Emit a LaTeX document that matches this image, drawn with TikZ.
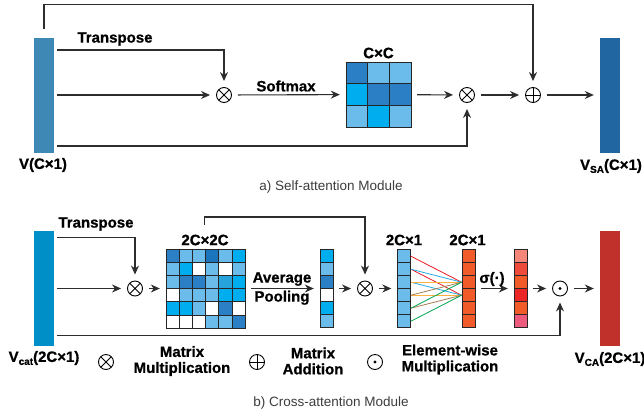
\documentclass[tikz,border=0pt]{standalone}
\usepackage{fontspec}
\setmainfont{Liberation Sans}[BoldFeatures={FakeBold=0.8}]
\usetikzlibrary{arrows.meta,calc}

\definecolor{linegray}{RGB}{45,45,45}
\definecolor{capgray}{RGB}{60,60,60}
\definecolor{vblue}{RGB}{62,136,182}
\definecolor{sablue}{RGB}{33,102,160}
\definecolor{catblue}{RGB}{0,143,199}
\definecolor{cared}{RGB}{192,49,43}
% cell fills
\definecolor{mb}{RGB}{43,127,196}
\definecolor{db}{RGB}{27,117,188}
\definecolor{lb}{RGB}{108,188,235}
\definecolor{cy}{RGB}{0,174,239}
\definecolor{cyb}{RGB}{39,163,220}
\definecolor{og}{RGB}{241,90,41}
\definecolor{sal}{RGB}{244,135,122}
\definecolor{rdb}{RGB}{238,75,59}
\definecolor{rdd}{RGB}{236,37,39}
\definecolor{pnk}{RGB}{236,91,126}
% wire colours
\definecolor{wred}{RGB}{237,28,36}
\definecolor{wblue}{RGB}{39,170,225}
\definecolor{worange}{RGB}{251,176,64}
\definecolor{wbrown}{RGB}{166,124,82}
\definecolor{wgreen}{RGB}{0,166,81}

\tikzset{
  lbl/.style={font=\bfseries\fontsize{15}{16}\selectfont, inner sep=0pt},
  capt/.style={font=\fontsize{13.5}{15}\selectfont, text=capgray, inner sep=0pt},
  feat/.style={minimum width=20pt, minimum height=115pt, inner sep=0pt},
  cellbox/.style={draw=black!85, line width=0.8pt, minimum width=13pt, minimum height=13pt, inner sep=0pt},
  op/.style={circle, draw=black, line width=0.9pt, minimum size=15pt, inner sep=0pt},
  mult/.style={op, path picture={\draw[line width=0.9pt]
      (path picture bounding box.north west) -- (path picture bounding box.south east)
      (path picture bounding box.north east) -- (path picture bounding box.south west);}},
  plus/.style={op, path picture={\draw[line width=0.9pt]
      (path picture bounding box.north) -- (path picture bounding box.south)
      (path picture bounding box.west) -- (path picture bounding box.east);}},
  hadamard/.style={op, path picture={\fill (path picture bounding box.center) circle (1.6pt);}},
  link/.style={draw=linegray, line width=1.1pt},
  arr/.style={link, -{Stealth[length=9pt,width=8pt]}, shorten <=6pt, shorten >=6pt},
  wire/.style={line width=0.8pt},
}

% lowered index inside bold labels
\newcommand{\lowidx}[1]{\raisebox{-3pt}{\fontsize{10}{10}\selectfont #1}}

% column of 6 cells: name, centre, fills
\newcommand{\cellcol}[3]{%
  \node[minimum width=13pt, minimum height=78pt, inner sep=0pt] (#1) at (#2) {};
  \foreach \c [count=\i] in {#3}
    \node[cellbox, fill=\c, anchor=north] (#1-\i) at ($(#1.north)+(0,{(\i-1)*13})$) {};
}
% square grid: name, centre, side, cell side, rows
\newcommand{\cellgrid}[5]{%
  \node[minimum size=#3pt, inner sep=0pt] (#1) at (#2) {};
  \foreach \rowc [count=\ry] in {#5}
    \foreach \c [count=\cx] in \rowc
      \node[cellbox, minimum size=#4pt, fill=\c, anchor=north west]
        at ($(#1.north west)+({(\cx-1)*#4},{(\ry-1)*#4})$) {};
}

\begin{document}
\begin{tikzpicture}[x=1pt, y=-1pt]
\useasboundingbox (0,0) rectangle (644,418);

%% a) self-attention
\node[feat, fill=vblue] (v) at (44,95) {};
\node[feat, fill=sablue] (vsa) at (610,95) {};
\node[mult] (m1) at (224,95) {};
\cellgrid{att}{378.5,94.5}{65}{21.667}{{mb,lb,lb},{cy,mb,mb},{lb,cy,lb}}
\node[mult] (m2) at (467,95) {};
\node[plus] (s1) at (533,95) {};

\draw[arr, shorten <=3pt] ([yshift=45pt]v.east) -| (m1);
\draw[arr, shorten <=3pt] (v.east) -- (m1);
\draw[arr] (m1) -- (att);
\draw[arr] (att) -- (m2);
\draw[arr, shorten <=3pt] ([yshift=-51pt]v.east) -| (m2);
\draw[arr] (m2) -- (s1);
\draw[arr] (s1) -- (vsa);
\draw[arr, shorten <=0pt] ([yshift=8pt]v.north) -- ++(0,-25) -| (s1);

\node[lbl] (tr1) at (115,39) {Transpose};
\node[lbl] (smx) at (286,86) {Softmax};
\node[lbl] (attl) at (378.5,53) {C×C};
\node[lbl] (vl) at (43,165) {V(C×1)};
\node[lbl] (vsal) at (611,166) {V\lowidx{SA}(C×1)};
\node[capt] (capa) at (331,187) {a) Self-attention Module};

%% b) cross-attention
\node[feat, fill=catblue] (vcat) at (44,288.5) {};
\node[feat, fill=cared] (vca) at (610,288.5) {};
\node[mult] (m3) at (135,288.5) {};
\cellgrid{corr}{205.5,288.5}{79}{13.167}{%
  {mb,lb,lb,db,lb,cy},{lb,cy,white,lb,white,lb},{lb,mb,mb,lb,cyb,cy},%
  {white,lb,lb,lb,cy,cy},{cy,cy,lb,white,mb,white},{white,white,white,lb,lb,mb}}
\cellcol{pool}{326.5,288.5}{cy,lb,mb,white,cy,lb}
\node[mult] (m4) at (365,288.5) {};
\cellcol{wq}{404,288.5}{lb,lb,lb,lb,lb,lb}
\cellcol{wk}{468.5,288.5}{og,og,og,og,og,og}
\cellcol{gate}{520.5,288.5}{sal,rdb,og,rdd,og,pnk}
\node[hadamard] (h1) at (560,288.5) {};

\draw[arr, shorten <=3pt] ([yshift=51pt]vcat.east) -| (m3);
\draw[arr, shorten <=3pt] (vcat.east) -- (m3);
\draw[arr] (m3) -- (corr);
\draw[arr] (corr) -- (pool);
\draw[arr] (pool) -- (m4);
\draw[arr] (m4) -- (wq);
\foreach \a/\b/\col in {1/3/wred, 2/4/wred, 2/3/wblue, 3/4/wblue, 3/3/worange,
    4/4/worange, 4/3/wbrown, 5/4/wbrown, 5/3/wgreen, 6/4/wgreen}
  \draw[wire, \col] (wq-\a.east) -- (wk-\b.west);
\draw[arr] (wk) -- (gate);
\draw[arr] (gate) -- (h1);
\draw[arr] (h1) -- (vca);
\draw[arr, shorten <=3pt] ([yshift=-47pt]vcat.east) -| (h1);
\coordinate (tap) at (204.5,225);
\draw[arr, shorten <=0pt] (tap) -- ++(0,-8) -| (m4);

\node[lbl] (tr2) at (96,224) {Transpose};
\node[lbl] (corrl) at (205,240) {2C×2C};
\node[lbl, align=center] (avg) at (282,288.5) {Average\\[3pt]Pooling};
\node[lbl] (wql) at (404,240) {2C×1};
\node[lbl] (wkl) at (467.5,240) {2C×1};
\node[lbl] (sig) at (492,279) {σ(·)};
\node[lbl] (vcatl) at (44,358) {V\lowidx{cat}(2C×1)};
\node[lbl] (vcal) at (610,359) {V\lowidx{CA}(2C×1)};

% legend
\node[mult] (lgm) at (106,362) {};
\node[lbl, align=center] (lgmt) at (182,361) {Matrix\\Multiplication};
\node[plus] (lgp) at (257,362) {};
\node[lbl, align=center] (lgpt) at (313,361) {Matrix\\Addition};
\node[hadamard] (lgh) at (375,362) {};
\node[lbl, align=center] (lght) at (450,359.5) {Element-wise\\Multiplication};
\node[capt] (capb) at (331,403) {b) Cross-attention Module};
\end{tikzpicture}
\end{document}
